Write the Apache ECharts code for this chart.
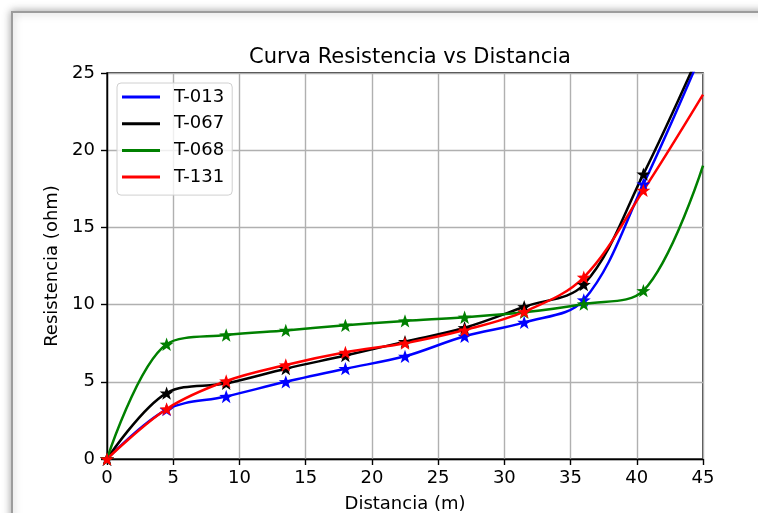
<!DOCTYPE html>
<html>
<head>
<meta charset="utf-8">
<script src="https://cdn.jsdelivr.net/npm/echarts@6/dist/echarts.min.js"></script>
<style>
  html, body { margin: 0; padding: 0; background: #fff; }
  #chart { width: 758px; height: 513px; }
</style>
</head>
<body>
<div id="chart"></div>
<script>
// distancia (m) where each curve was measured; 45 is only the edge of the plot
const distancia = [0, 4.5, 9, 13.5, 18, 22.5, 27, 31.5, 36, 40.5, 45]
const t013 = [0, 3.2, 4.05, 5.0, 5.85, 6.65, 7.95, 8.85, 10.3, 17.8, 26.5]
const t067 = [0, 4.27, 4.9, 5.85, 6.7, 7.6, 8.5, 9.86, 11.3, 18.45, 26.8]
const t068 = [0, 7.43, 8.03, 8.33, 8.66, 8.94, 9.18, 9.5, 10.04, 10.9, 19.0]
const t131 = [0, 3.24, 5.05, 6.09, 6.91, 7.5, 8.35, 9.54, 11.77, 17.4, 23.6]
const xTicks = [0, 5, 10, 15, 20, 25, 30, 35, 40, 45]
const yTicks = [0, 5, 10, 15, 20, 25]

const FONT = 'DejaVu Sans'
const STAR = 'path://M0,-10L2.351,-3.236L9.511,-3.09L3.804,1.236L5.878,8.09L0,4L-5.878,8.09L-3.804,1.236L-9.511,-3.09L-2.351,-3.236Z'

function makeSeries(name, values, color) {
  return {
    name: name,
    type: 'line',
    smooth: 0.35,
    clip: true,
    symbol: STAR,
    symbolSize: 14,
    symbolKeepAspect: true,
    showSymbol: true,
    lineStyle: { color: color, width: 2.5 },
    itemStyle: { color: color },
    emphasis: { disabled: true },
    animation: false,
    // last point is the plot edge, no marker there
    data: values.map((v, i) => i === values.length - 1
      ? { value: [distancia[i], v], symbol: 'none' }
      : [distancia[i], v])
  }
}

const chart = echarts.init(document.getElementById('chart'))
chart.setOption({
  backgroundColor: '#fff',
  graphic: [{
    type: 'rect',
    z: -10,
    silent: true,
    shape: { x: 12, y: 12, width: 800, height: 600 },
    style: {
      fill: '#fff',
      stroke: '#9c9c9c',
      lineWidth: 2,
      shadowBlur: 8,
      shadowColor: 'rgba(0,0,0,0.35)'
    }
  }],
  title: {
    text: 'Curva Resistencia vs Distancia',
    left: 405,
    top: 42,
    textAlign: 'center',
    textStyle: { fontFamily: FONT, fontSize: 21, fontWeight: 'normal', color: '#000' }
  },
  legend: {
    orient: 'vertical',
    left: 117,
    top: 83,
    icon: 'rect',
    itemWidth: 38,
    itemHeight: 3,
    itemGap: 8.7,
    padding: [5, 8, 9, 5],
    backgroundColor: 'rgba(255,255,255,0.8)',
    borderColor: '#d0d0d0',
    borderWidth: 1,
    borderRadius: 4,
    textStyle: { fontFamily: FONT, fontSize: 18, color: '#000', lineHeight: 18, padding: [0, 0, 0, 9] },
    data: ['T-013', 'T-067', 'T-068', 'T-131']
  },
  grid: {
    left: 107,
    right: 55,
    top: 73,
    bottom: 54,
    outerBoundsMode: 'none',
    show: true,
    borderColor: '#000',
    borderWidth: 1.4
  },
  xAxis: {
    type: 'value',
    min: xTicks[0],
    max: xTicks[xTicks.length - 1],
    interval: 5,
    name: 'Distancia (m)',
    nameLocation: 'middle',
    nameGap: 36,
    nameTextStyle: { fontFamily: FONT, fontSize: 18, color: '#000' },
    axisLine: { lineStyle: { color: '#000', width: 1.4 } },
    axisTick: { show: true, length: 6, lineStyle: { color: '#000', width: 1.4 } },
    axisLabel: { fontFamily: FONT, fontSize: 18, color: '#000', margin: 10 },
    splitLine: { show: true, lineStyle: { color: '#b0b0b0', width: 1.4 } }
  },
  yAxis: {
    type: 'value',
    min: yTicks[0],
    max: yTicks[yTicks.length - 1],
    interval: 5,
    name: 'Resistencia (ohm)',
    nameLocation: 'middle',
    nameGap: 39,
    nameTextStyle: { fontFamily: FONT, fontSize: 18, color: '#000' },
    axisLine: { show: true, lineStyle: { color: '#000', width: 1.4 } },
    axisTick: { show: true, length: 6, lineStyle: { color: '#000', width: 1.4 } },
    axisLabel: { fontFamily: FONT, fontSize: 18, color: '#000', margin: 12 },
    splitLine: { show: true, lineStyle: { color: '#b0b0b0', width: 1.4 } }
  },
  series: [
    makeSeries('T-013', t013, '#0000ff'),
    makeSeries('T-067', t067, '#000000'),
    makeSeries('T-068', t068, '#008000'),
    makeSeries('T-131', t131, '#ff0000')
  ]
})
</script>
</body>
</html>
